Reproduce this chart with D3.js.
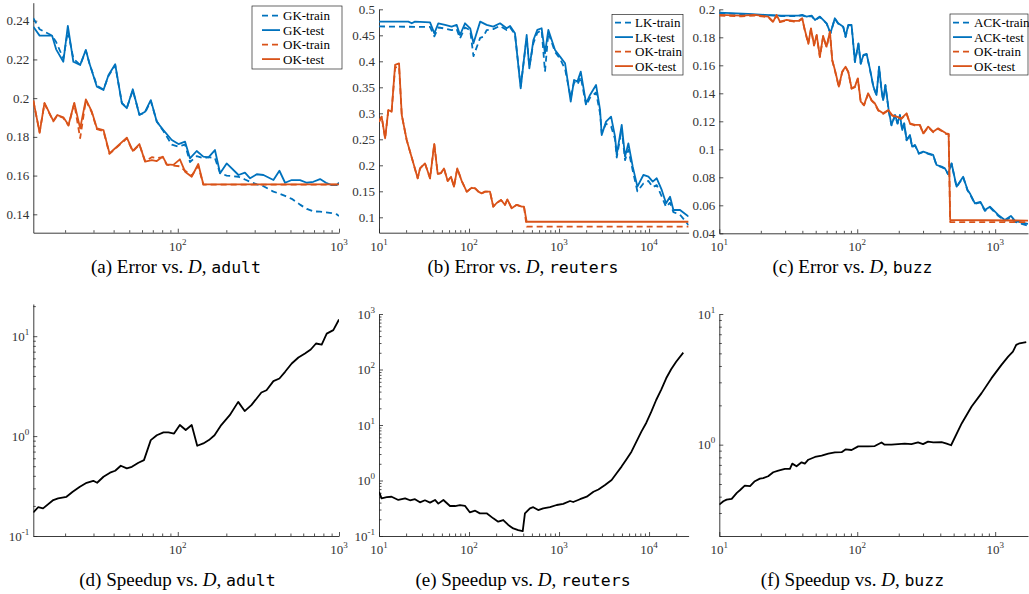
<!DOCTYPE html>
<html><head><meta charset="utf-8">
<script src="https://cdn.jsdelivr.net/npm/d3@7"></script>
<style>body{margin:0;background:#fff} svg{display:block} text{white-space:pre}</style>
</head><body>
<svg id="c" width="1029" height="594"></svg>
<script>
// ---------- data: [D, value] ----------
const adultGKtrain = [[12.7,0.2413],[13.9,0.2356],[16.6,0.2323],[17.6,0.2290],[19.5,0.2205],[20.8,0.2345],[22.5,0.2205],[24.8,0.2171],[26.9,0.2245],[28.3,0.2180],[31.5,0.2065],[34.6,0.2045],[37.2,0.2115],[40.9,0.2170],[45,0.1975],[48.3,0.1950],[52.6,0.2040],[57.8,0.1915],[62.7,0.1925],[68,0.1985],[74.1,0.1880],[81.4,0.1830],[91.8,0.1760],[101,0.1750],[111,0.1760],[119,0.1670],[131,0.1700],[144,0.1690],[155,0.1695],[170,0.1690],[183,0.1612],[201,0.1600],[238,0.1594],[261,0.1580],[281,0.1568],[309,0.1555],[340,0.1545],[392,0.1517],[427,0.1507],[463,0.1495],[509,0.1480],[573,0.1450],[631,0.1428],[693,0.1415],[763,0.1414],[830,0.1410],[901,0.1406],[968,0.1400],[1000,0.1391]];
const adultGKtest = [[12.7,0.2369],[13.9,0.2323],[16.6,0.2323],[17.6,0.2252],[19.5,0.2188],[20.8,0.2373],[22.5,0.2188],[24.8,0.2171],[26.9,0.2249],[28.3,0.2180],[31.5,0.2059],[34.6,0.2042],[37.2,0.2120],[40.9,0.2175],[45,0.1973],[48.3,0.1948],[52.6,0.2046],[57.8,0.1913],[62.7,0.1930],[68,0.1990],[74.1,0.1878],[81.4,0.1835],[91.8,0.1784],[101,0.1763],[111,0.1775],[119,0.1689],[131,0.1727],[144,0.1698],[155,0.1694],[170,0.1732],[183,0.1612],[201,0.1663],[238,0.1603],[261,0.1615],[281,0.1586],[309,0.1607],[340,0.1603],[392,0.1577],[427,0.1625],[463,0.1563],[509,0.1577],[573,0.1577],[631,0.1563],[693,0.1568],[763,0.1582],[830,0.1563],[901,0.1551],[968,0.1551],[1000,0.1563]];
const adultOKtrain = [[12.7,0.1985],[13.9,0.1825],[14.9,0.1972],[16.9,0.1880],[17.9,0.1910],[19.5,0.1898],[21.0,0.1858],[22.8,0.1972],[24.8,0.1793],[26.9,0.1990],[29.3,0.1925],[31.5,0.1840],[34.6,0.1830],[37.7,0.1712],[40.9,0.1738],[48.3,0.1792],[52.6,0.1725],[57.8,0.1760],[62.7,0.1675],[69.0,0.1695],[74.1,0.1690],[80.7,0.1695],[85.5,0.1655],[93.9,0.1652],[103,0.1648],[111,0.1625],[122,0.1600],[134,0.1650],[144,0.1553],[1000,0.1553]];
const adultOKtest = [[12.7,0.1990],[13.9,0.1821],[14.9,0.1976],[16.9,0.1883],[17.9,0.1913],[19.5,0.1901],[21.0,0.1861],[22.8,0.1976],[24.8,0.1844],[26.9,0.1994],[29.3,0.1930],[31.5,0.1844],[34.6,0.1835],[37.7,0.1715],[40.9,0.1741],[48.3,0.1796],[52.6,0.1728],[57.8,0.1763],[62.7,0.1672],[69.0,0.1680],[74.1,0.1675],[80.7,0.1698],[85.5,0.1658],[93.9,0.1655],[103,0.1684],[111,0.1620],[122,0.1594],[134,0.1660],[144,0.1555],[1000,0.1555]];

const reutersLKtrain = [[10,0.467],[36.9,0.466],[41.2,0.448],[45.6,0.465],[54.1,0.463],[64.1,0.46],[72.9,0.462],[79.4,0.444],[90.3,0.465],[103,0.46],[112,0.41],[133,0.445],[144,0.447],[157,0.46],[186,0.462],[221,0.468],[262,0.46],[286,0.465],[324,0.452],[375,0.352],[437,0.445],[468,0.39],[519,0.435],[574,0.455],[641,0.46],[698,0.38],[761,0.455],[903,0.418],[1026,0.405],[1167,0.385],[1349,0.33],[1469,0.36],[1600,0.355],[1743,0.37],[1997,0.315],[2210,0.33],[2577,0.34],[2856,0.3],[2980,0.262],[3328,0.28],[3784,0.275],[4191,0.25],[4375,0.215],[4969,0.27],[5412,0.21],[5895,0.23],[6586,0.19],[7420,0.15],[8650,0.165],[9840,0.17],[10990,0.158],[12170,0.162],[13830,0.14],[15450,0.12],[17110,0.128],[18640,0.11],[22090,0.105],[27500,0.085]];
const reutersLKtest = [[10,0.4763],[21.2,0.4763],[23.1,0.4731],[25.1,0.4763],[36.9,0.475],[41.2,0.4538],[45.6,0.4731],[54.1,0.47],[64.1,0.4667],[72.9,0.47],[79.4,0.4506],[90.3,0.4731],[103,0.4635],[112,0.4346],[133,0.4763],[157,0.47],[186,0.4667],[221,0.4731],[262,0.4635],[286,0.4679],[324,0.4538],[375,0.348],[437,0.4506],[468,0.3865],[519,0.441],[574,0.4603],[641,0.4635],[698,0.4154],[761,0.4603],[903,0.4218],[1026,0.409],[1167,0.3962],[1349,0.3224],[1469,0.3641],[1600,0.3609],[1743,0.3801],[1997,0.3192],[2210,0.3353],[2577,0.3545],[2856,0.3064],[2980,0.2583],[3328,0.284],[3784,0.2936],[4191,0.2551],[4375,0.2199],[4969,0.2776],[5412,0.2167],[5895,0.2423],[6586,0.1974],[7420,0.159],[8650,0.1814],[9840,0.1782],[10990,0.1686],[12170,0.175],[13830,0.1526],[15450,0.1269],[17110,0.1397],[18640,0.1141],[22090,0.1141],[27500,0.1013]];
const reutersOKtrain = [[10,0.2838],[10.7,0.2935],[11.7,0.252],[12.7,0.3065],[13.8,0.303],[15.1,0.388],[16.7,0.39],[17.9,0.2967],[20.3,0.2487],[24.1,0.2038],[26.9,0.175],[28.6,0.1942],[32.4,0.2038],[36.9,0.175],[41.1,0.241],[44.9,0.1833],[48.8,0.185],[52.7,0.194],[58,0.1698],[63.1,0.178],[68.1,0.1589],[74.1,0.194],[82.9,0.17],[94.3,0.1493],[107,0.1568],[117,0.1555],[127,0.1493],[138,0.1461],[151,0.1493],[171,0.1493],[186,0.1204],[203,0.1275],[227,0.1333],[251,0.124],[267,0.1345],[298,0.1173],[339,0.124],[385,0.1204],[408,0.1204],[437,0.0819],[27500,0.0819]];
const reutersOKtest = [[10,0.2838],[10.7,0.2935],[11.7,0.252],[12.7,0.3065],[13.8,0.303],[15.1,0.393],[16.7,0.396],[17.9,0.2967],[20.3,0.2487],[24.1,0.2038],[26.9,0.175],[28.6,0.1942],[32.4,0.2038],[36.9,0.175],[41.1,0.241],[44.9,0.1833],[48.8,0.185],[52.7,0.194],[58,0.1698],[63.1,0.178],[68.1,0.1589],[74.1,0.194],[82.9,0.17],[94.3,0.1493],[107,0.1568],[117,0.1555],[127,0.1493],[138,0.1461],[151,0.1493],[171,0.1493],[186,0.1204],[203,0.1275],[227,0.1333],[251,0.124],[267,0.1345],[298,0.1173],[339,0.124],[385,0.1204],[408,0.1204],[437,0.0915],[27500,0.0915]];

const buzzACKtrain = [[10,0.1972],[16.2,0.1963],[21.4,0.1958],[28.3,0.1952],[37.4,0.1952],[39.9,0.1957],[42.9,0.1946],[46.7,0.1952],[49.4,0.1922],[53.6,0.1945],[58.3,0.191],[60,0.1898],[64,0.1828],[68.8,0.1932],[72.8,0.1897],[79.2,0.1873],[82.3,0.1802],[86.1,0.1885],[91,0.1885],[96.2,0.1622],[102,0.1753],[106,0.161],[111,0.1671],[117,0.1678],[124,0.1563],[131,0.1445],[138,0.1385],[144,0.1587],[150,0.1421],[154,0.1349],[160,0.1457],[169,0.1278],[177,0.1171],[188,0.1242],[196,0.1183],[204,0.1242],[212,0.1135],[219,0.1183],[228,0.1064],[241,0.1099],[250,0.1016],[262,0.1028],[280,0.0968],[301,0.098],[327,0.0968],[355,0.0957],[376,0.0885],[409,0.0873],[432,0.0861],[456,0.0821],[483,0.0897],[525,0.073],[586,0.08],[631,0.0705],[660,0.0676],[713,0.061],[780,0.062],[842,0.056],[916,0.0585],[1052,0.0525],[1175,0.049],[1300,0.0515],[1389,0.0482],[1554,0.0468],[1730,0.0455]];
const buzzACKtest = [[10,0.1976],[16.2,0.1967],[21.4,0.196],[28.3,0.1955],[37.4,0.1955],[39.9,0.196],[42.9,0.1948],[46.7,0.1955],[49.4,0.1924],[53.6,0.1948],[58.3,0.1912],[60,0.19],[64,0.183],[68.8,0.1936],[72.8,0.19],[79.2,0.1876],[82.3,0.1805],[86.1,0.1888],[91,0.1888],[96.2,0.1626],[102,0.1757],[106,0.1614],[111,0.1674],[117,0.1681],[124,0.1567],[131,0.1448],[138,0.1388],[144,0.159],[150,0.1424],[154,0.1352],[160,0.146],[169,0.1281],[177,0.1174],[188,0.1245],[196,0.1186],[204,0.1245],[212,0.1138],[219,0.1186],[228,0.1067],[241,0.1102],[250,0.1019],[262,0.1031],[280,0.0971],[301,0.0983],[327,0.0971],[355,0.096],[376,0.0888],[409,0.0876],[432,0.0864],[456,0.0824],[483,0.09],[525,0.0733],[586,0.0804],[631,0.0709],[660,0.068],[713,0.0614],[780,0.0625],[842,0.0566],[916,0.059],[1052,0.0531],[1175,0.0495],[1300,0.0524],[1389,0.049],[1554,0.0476],[1730,0.0467]];
const buzzOKtrain = [[10,0.1955],[14.5,0.195],[18.1,0.1955],[22.6,0.1944],[24.6,0.1908],[26,0.1955],[27.5,0.1908],[30.8,0.192],[34.4,0.1913],[37.4,0.1913],[39.9,0.1932],[41.7,0.1848],[44.2,0.1753],[46.2,0.186],[48.6,0.1741],[50.8,0.1813],[53.6,0.1658],[56.6,0.1806],[59.9,0.1729],[63.4,0.1836],[65.9,0.1634],[68.9,0.1563],[73.6,0.1444],[77.8,0.1551],[82.3,0.1586],[86.1,0.1551],[91,0.1432],[96.2,0.1444],[101,0.1503],[106,0.1336],[112,0.1313],[120,0.1396],[127,0.1348],[134,0.1325],[142,0.1277],[154,0.1253],[168,0.1277],[179,0.1241],[193,0.1229],[209,0.1217],[228,0.1253],[241,0.1182],[262,0.117],[285,0.117],[301,0.111],[327,0.1158],[355,0.1122],[386,0.1146],[409,0.1131],[440,0.111],[460,0.1106],[472,0.048],[1730,0.048]];
const buzzOKtest = [[10,0.196],[14.5,0.1955],[18.1,0.196],[22.6,0.1948],[24.6,0.1912],[26,0.196],[27.5,0.1912],[30.8,0.1924],[34.4,0.1917],[37.4,0.1917],[39.9,0.1936],[41.7,0.1852],[44.2,0.1757],[46.2,0.1864],[48.6,0.1745],[50.8,0.1817],[53.6,0.1662],[56.6,0.181],[59.9,0.1733],[63.4,0.184],[65.9,0.1638],[68.9,0.1567],[73.6,0.1448],[77.8,0.1555],[82.3,0.159],[86.1,0.1555],[91,0.1436],[96.2,0.1448],[101,0.1507],[106,0.134],[112,0.1317],[120,0.14],[127,0.1352],[134,0.1329],[142,0.1281],[154,0.1257],[168,0.1281],[179,0.1245],[193,0.1233],[209,0.1221],[228,0.1257],[241,0.1186],[262,0.1174],[285,0.1174],[301,0.1114],[327,0.1162],[355,0.1126],[386,0.115],[409,0.1135],[440,0.1114],[460,0.111],[472,0.0495],[1730,0.0491]];

const adultSpeedup = [[12.7,0.172],[13.6,0.194],[14.6,0.189],[16.9,0.229],[18.1,0.238],[20.4,0.247],[22.3,0.277],[24.7,0.311],[27.2,0.341],[29.9,0.357],[31.6,0.341],[34.6,0.392],[38,0.43],[40.9,0.45],[44.3,0.505],[48.3,0.475],[51.9,0.493],[57,0.541],[61.7,0.575],[68,0.912],[74.1,1.02],[81.5,1.09],[87.5,1.09],[94.8,1.06],[103,1.29],[112,1.15],[122,1.29],[132,0.8],[144,0.845],[156,0.912],[169,1.02],[186,1.29],[210,1.62],[237,2.2],[260,1.78],[286,2.04],[330,2.73],[355,2.88],[392,3.55],[427,3.77],[463,4.4],[509,5.33],[560,6.12],[615,6.71],[668,7.36],[720,8.45],[781,8.25],[839,10.6],[922,11.5],[1000,14.7]];
const reutersSpeedup = [[10,0.628],[10.7,0.478],[12.2,0.50],[13.8,0.51],[16.4,0.446],[19.5,0.478],[22.1,0.44],[25.1,0.46],[28.5,0.404],[32.4,0.44],[36.9,0.40],[41.9,0.446],[45.6,0.383],[51.9,0.446],[61.5,0.347],[69.9,0.347],[79.4,0.36],[90.1,0.35],[102,0.267],[117,0.286],[132,0.256],[157,0.256],[186,0.208],[211,0.181],[240,0.194],[273,0.158],[310,0.137],[352,0.128],[395,0.122],[418,0.256],[475,0.315],[517,0.33],[587,0.293],[667,0.315],[793,0.33],[942,0.362],[1113,0.38],[1325,0.427],[1438,0.41],[1710,0.46],[2032,0.511],[2413,0.628],[2740,0.69],[3243,0.83],[3840,1.02],[4361,1.35],[4950,1.78],[5620,2.41],[6380,3.3],[7240,5.0],[8220,7.6],[9330,11],[10600,17.4],[12000,28.2],[13700,44],[15500,69.4],[17600,101],[20000,138],[24000,201]];
const buzzSpeedup = [[10,0.348],[10.7,0.369],[11.3,0.38],[12.3,0.385],[13.4,0.428],[14.1,0.448],[15.3,0.486],[16.7,0.481],[18.1,0.525],[19.7,0.55],[20.8,0.555],[22.6,0.573],[24.6,0.615],[26.8,0.634],[29.9,0.652],[32.5,0.652],[33.8,0.716],[36.3,0.683],[39.5,0.733],[41.7,0.716],[44.2,0.767],[49.4,0.805],[55.2,0.824],[61.7,0.853],[68.9,0.873],[77,0.876],[82.2,0.92],[91,0.91],[101.6,0.97],[120,0.97],[134,0.976],[150,1.04],[158,1.0],[177,1.0],[198,1.01],[221,1.02],[247,1.01],[276,1.04],[300,1.01],[326,1.055],[356,1.04],[409,1.045],[445,1.02],[479,0.99],[573,1.46],[675,1.96],[797,2.48],[941,3.23],[1111,4.08],[1242,4.72],[1345,5.15],[1421,5.8],[1502,5.97],[1680,6.1]];

// tick labels
const adultErrTicks = [0.14,0.16,0.18,0.2,0.22,0.24];
const reutersErrTicks = [0.1,0.15,0.2,0.25,0.3,0.35,0.4,0.45,0.5];
const buzzErrTicks = [0.04,0.06,0.08,0.1,0.12,0.14,0.16,0.18,0.2];
const legendA = ["GK-train","GK-test","OK-train","OK-test"];
const legendB = ["LK-train","LK-test","OK-train","OK-test"];
const legendC = ["ACK-train","ACK-test","OK-train","OK-test"];
const captions = [
  ["a","Error","adult"],["b","Error","reuters"],["c","Error","buzz"],
  ["d","Speedup","adult"],["e","Speedup","reuters"],["f","Speedup","buzz"]];

// ---------- drawing ----------
const BLUE="#0072BD", ORANGE="#D95319", AX="#262626", LBL="#333";
const SERIF="'Liberation Serif','Times New Roman',serif";
const svg=d3.select("#c");

function logMajor(dom){const o=[];for(let k=-3;k<=6;k++){const v=Math.pow(10,k);if(v>=dom[0]*0.999&&v<=dom[1]*1.001)o.push(v);}return o;}
function logMinor(dom){const o=[];for(let k=-3;k<=6;k++)for(let m=2;m<=9;m++){const v=m*Math.pow(10,k);if(v>=dom[0]*0.999&&v<=dom[1]*1.001)o.push(v);}return o;}
function sup(t,v){t.append("tspan").text("10");t.append("tspan").attr("dy",-6).attr("font-size",9).text(String(Math.round(Math.log10(v))));}

function series(d,c,dash,w){return {data:d,color:c,dash:dash,w:w};}

const panels=[
 {id:"a",xd:[12.7,1000],xr:[33.3,339],yd:[0.1305,0.2493],yr:[232.7,2.7],ylog:false,yt:adultErrTicks,
  series:[series(adultGKtrain,BLUE,true),series(adultGKtest,BLUE,false),series(adultOKtrain,ORANGE,true),series(adultOKtest,ORANGE,false)],
  legend:{x:252,y:6,w:90,h:63,names:legendA,l0:262,l1:280,tx:283,ey:15.6}},
 {id:"b",xd:[10,27500],xr:[379,688.6],yd:[0.0704,0.5],yr:[232.7,9.3],ylog:false,yt:reutersErrTicks,
  series:[series(reutersLKtrain,BLUE,true),series(reutersLKtest,BLUE,false),series(reutersOKtrain,ORANGE,true),series(reutersOKtest,ORANGE,false)],
  legend:{x:612,y:14.5,w:71,h:60.5,names:legendB,l0:615,l1:633,tx:635,ey:22.6}},
 {id:"c",xd:[10,1730],xr:[719.3,1028],yd:[0.04,0.2],yr:[233.3,9.3],ylog:false,yt:buzzErrTicks,
  series:[series(buzzACKtrain,BLUE,true),series(buzzACKtest,BLUE,false),series(buzzOKtrain,ORANGE,true),series(buzzOKtest,ORANGE,false)],
  legend:{x:950,y:14,w:78,h:61,names:legendC,l0:953,l1:972,tx:974,ey:22.6}},
 {id:"d",xd:[12.7,1000],xr:[33.3,339],yd:[0.1,21],yr:[536,304],ylog:true,series:[series(adultSpeedup,"#000",false,1.8)]},
 {id:"e",xd:[10,27500],xr:[379,688.6],yd:[0.1,1000],yr:[536,314],ylog:true,series:[series(reutersSpeedup,"#000",false,1.8)]},
 {id:"f",xd:[10,1730],xr:[719.3,1028],yd:[0.2,10],yr:[536,314],ylog:true,series:[series(buzzSpeedup,"#000",false,1.8)]}
];

panels.forEach(p=>{
  const g=svg.append("g");
  const x=d3.scaleLog().domain(p.xd).range(p.xr);
  const y=(p.ylog?d3.scaleLog():d3.scaleLinear()).domain(p.yd).range(p.yr);
  // x axis
  const gx=g.append("g").attr("transform",`translate(0,${p.yr[0]})`);
  gx.call(d3.axisBottom(x).tickValues(logMajor(p.xd)).tickSizeInner(-4).tickSizeOuter(0).tickFormat(""));
  gx.append("g").call(d3.axisBottom(x).tickValues(logMinor(p.xd)).tickSizeInner(-2.5).tickSizeOuter(0).tickFormat("")).select(".domain").remove();
  logMajor(p.xd).forEach(v=>{
    const t=g.append("text").attr("x",x(v)).attr("y",p.yr[0]+18).attr("text-anchor","middle")
      .attr("font-family",SERIF).attr("font-size",13).attr("fill",LBL);
    sup(t,v);
  });
  // y axis
  const gy=g.append("g").attr("transform",`translate(${p.xr[0]},0)`);
  if(p.ylog){
    gy.call(d3.axisLeft(y).tickValues(logMajor(p.yd)).tickSizeInner(-4).tickSizeOuter(0).tickFormat(""));
    gy.append("g").call(d3.axisLeft(y).tickValues(logMinor(p.yd)).tickSizeInner(-2.5).tickSizeOuter(0).tickFormat("")).select(".domain").remove();
    logMajor(p.yd).forEach(v=>{
      const t=g.append("text").attr("x",p.xr[0]-4).attr("y",y(v)+4.5).attr("text-anchor","end")
        .attr("font-family",SERIF).attr("font-size",13).attr("fill",LBL);
      sup(t,v);
    });
  } else {
    gy.call(d3.axisLeft(y).tickValues(p.yt).tickSizeInner(-4).tickSizeOuter(0).tickFormat(""));
    p.yt.forEach(v=>{
      g.append("text").attr("x",p.xr[0]-4).attr("y",y(v)+4.5).attr("text-anchor","end")
        .attr("font-family",SERIF).attr("font-size",13).attr("fill",LBL).text(String(+v.toFixed(2)));
    });
  }
  g.selectAll(".domain").attr("stroke",AX).attr("stroke-width",0.9);
  g.selectAll(".tick line").attr("stroke",AX).attr("stroke-width",0.8);
  // lines
  const cid="clip-"+p.id;
  svg.append("clipPath").attr("id",cid).append("rect")
    .attr("x",p.xr[0]).attr("y",p.yr[1]-2).attr("width",p.xr[1]-p.xr[0]).attr("height",p.yr[0]-p.yr[1]+2);
  const line=d3.line().x(d=>x(d[0])).y(d=>y(d[1]));
  const lg=g.append("g").attr("clip-path",`url(#${cid})`);
  p.series.forEach(s=>{
    lg.append("path").datum(s.data).attr("d",line).attr("fill","none")
      .attr("stroke",s.color).attr("stroke-width",s.w||1.8)
      .attr("stroke-dasharray",s.dash?"6,4":null).attr("stroke-linejoin","round");
  });
  // legend
  if(p.legend){
    const L=p.legend;
    const lgd=g.append("g");
    lgd.append("rect").attr("x",L.x).attr("y",L.y).attr("width",L.w).attr("height",L.h)
      .attr("fill","#fff").attr("stroke",AX).attr("stroke-width",0.7);
    L.names.forEach((n,i)=>{
      const yy=L.ey+i*14.5, s=p.series[i];
      lgd.append("line").attr("x1",L.l0).attr("x2",L.l1).attr("y1",yy).attr("y2",yy)
        .attr("stroke",s.color).attr("stroke-width",1.8).attr("stroke-dasharray",s.dash?"6,4":null);
      lgd.append("text").attr("x",L.tx).attr("y",yy+4.5).attr("font-family",SERIF).attr("font-size",13)
        .attr("fill","#000").text(n);
    });
  }
});

// captions
const capPos=[[176,273],[523,273],[852.5,273],[177.5,586],[523,586],[852.5,586]];
captions.forEach((c,i)=>{
  const t=svg.append("text").attr("x",capPos[i][0]).attr("y",capPos[i][1]).attr("text-anchor","middle")
    .attr("font-family",SERIF).attr("font-size",19).attr("fill","#000");
  t.append("tspan").text(`(${c[0]}) ${c[1]} vs. `);
  t.append("tspan").attr("font-style","italic").text("D");
  t.append("tspan").text(", ");
  t.append("tspan").attr("font-family","'DejaVu Sans Mono',monospace").attr("font-size",16.5).text(c[2]);
});
</script>
</body></html>
